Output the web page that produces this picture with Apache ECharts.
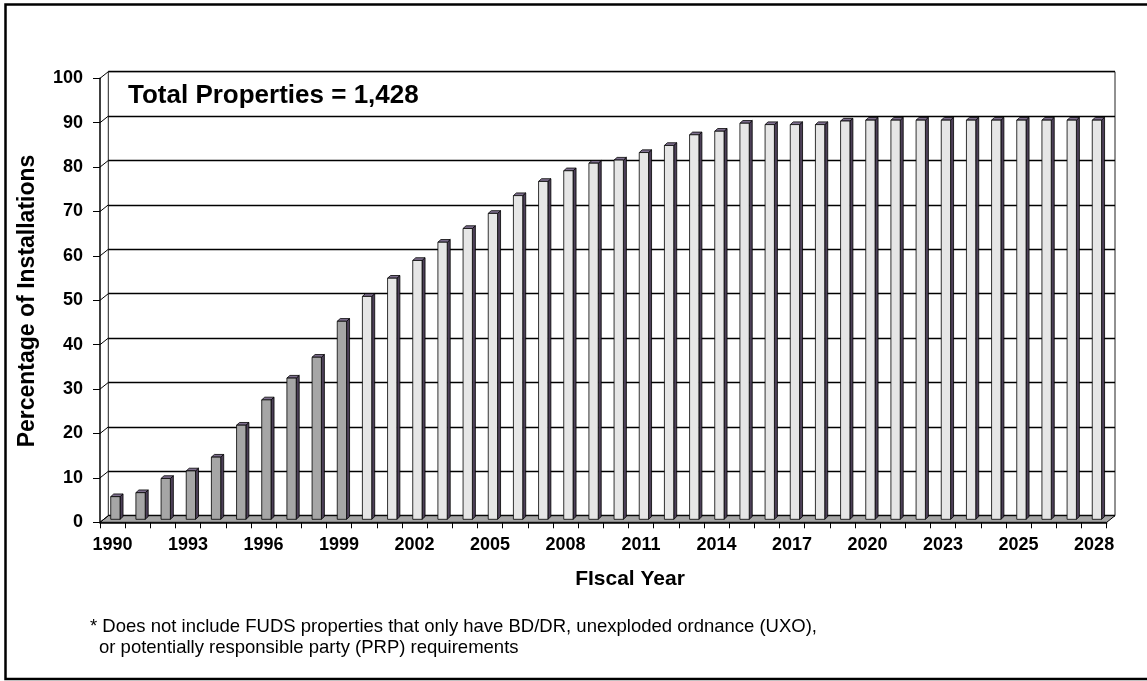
<!DOCTYPE html>
<html>
<head>
<meta charset="utf-8">
<script src="https://cdn.jsdelivr.net/npm/echarts@6/dist/echarts.min.js"></script>
<style>
html,body{margin:0;padding:0;background:#fff;}
#chart{width:1147px;height:681px;}
</style>
</head>
<body>
<div id="chart"></div>
<script>
// ---- data ----
const categories = ['1990','1991','1992','1993','1994','1995','1996','1997','1998','1999',
  '2000','2001','2002','2003','2004','2005','2006','2007','2008','2009',
  '2010','2011','2012','2013','2014','2015','2016','2017','2018','2019',
  '2020','2021','2022','2023','2024a','2024b','2025','2026','2027','2028'];
const tickLabels = ['1990','1993','1996','1999','2002','2005','2008','2011','2014','2017','2020','2023','2025','2028'];
// 1990-1999 (dark bars)
const actual = [5.1, 6.0, 9.2, 10.9, 14.0, 21.2, 26.9, 31.8, 36.5, 44.6];
// 2000 onward (light bars)
const projected = [50.2, 54.3, 58.3, 62.4, 65.5, 68.9, 72.9, 76.1, 78.5, 80.2,
  80.9, 82.6, 84.2, 86.6, 87.4, 89.2, 88.9, 88.9, 88.9, 89.7,
  89.9, 89.9, 89.9, 89.9, 89.9, 89.9, 89.9, 89.9, 89.9, 89.9];
const yTicks = [0,10,20,30,40,50,60,70,80,90,100];

// ---- layout ----
const FONT = 'Liberation Sans, Arial, Helvetica, sans-serif';
const GL = 100, GT = 78.3, GW = 1006.7, GH = 444;
const DX = 8.3, DY = -6.6; // depth of the 3D box

const chart = echarts.init(document.getElementById('chart'), null, {renderer: 'canvas'});

function barRenderer(frontColor) {
  return function (params, api) {
    const i = api.value(0), v = api.value(1);
    const base = api.coord([i, 0]);
    const top = api.coord([i, v]);
    const cw = api.size([1, 0])[0];
    const bw = cw * 0.37;
    const ox = 2.8, oy = -3;
    const x0 = base[0] + ox - bw / 2, x1 = x0 + bw;
    const yb = base[1] + oy, yt = top[1] + oy;
    const sx = 3, sy = -2.7;
    const st = {stroke: '#000', lineWidth: 0.8, lineJoin: 'round'};
    return {
      type: 'group',
      children: [
        {type: 'polygon', shape: {points: [[x1, yb], [x1 + sx, yb + sy], [x1 + sx, yt + sy], [x1, yt]]},
          style: Object.assign({fill: '#4d4058'}, st)},
        {type: 'polygon', shape: {points: [[x0, yt], [x1, yt], [x1 + sx, yt + sy], [x0 + sx, yt + sy]]},
          style: Object.assign({fill: '#7e6f8e'}, st)},
        {type: 'polygon', shape: {points: [[x0, yb], [x1, yb], [x1, yt], [x0, yt]]},
          style: Object.assign({fill: frontColor}, st)}
      ]
    };
  };
}

const option = {
  backgroundColor: '#fff',
  animation: false,
  grid: [
    {left: GL, top: GT, width: GW, height: GH, show: false},
    {left: GL + DX, top: GT + DY, width: GW, height: GH, show: true,
      backgroundColor: '#fff', borderColor: '#222', borderWidth: 1}
  ],
  xAxis: [
    {type: 'category', gridIndex: 0, data: categories, boundaryGap: true,
      axisLine: {show: true, lineStyle: {color: '#000', width: 1.5}},
      axisTick: {show: true, interval: 0, length: 6, lineStyle: {color: '#000', width: 1}},
      axisLabel: {interval: 2, margin: 14, color: '#000', fontFamily: FONT, fontWeight: 'bold', fontSize: 18,
        formatter: function (val, idx) { return tickLabels[Math.round(idx / 3)] || ''; }},
      splitLine: {show: false}, z: 5},
    {type: 'category', gridIndex: 1, data: categories, show: false}
  ],
  yAxis: [
    {type: 'value', gridIndex: 0, min: 0, max: 100, interval: 10,
      axisLine: {show: true, lineStyle: {color: '#000', width: 1.5}},
      axisTick: {show: true, length: 7, lineStyle: {color: '#000', width: 1}},
      axisLabel: {margin: 17, color: '#000', fontFamily: FONT, fontWeight: 'bold', fontSize: 18},
      splitLine: {show: false}, z: 5},
    {type: 'value', gridIndex: 1, min: 0, max: 100, interval: 10,
      axisLine: {show: false}, axisTick: {show: false}, axisLabel: {show: false},
      splitLine: {show: true, lineStyle: {color: '#000', width: 1.3}}}
  ],
  series: [
    { // floor of the 3D box and depth ticks
      type: 'custom', xAxisIndex: 0, yAxisIndex: 0, z: 1, silent: true,
      data: yTicks.map(function (t) { return [0, t]; }),
      renderItem: function (params, api) {
        const t = api.value(1);
        const p = api.coord([0, t]);
        const cw = api.size([1, 0])[0];
        const xl = p[0] - cw / 2;
        const children = [
          {type: 'line', shape: {x1: xl, y1: p[1], x2: xl + DX, y2: p[1] + DY},
            style: {stroke: '#000', lineWidth: 1}}
        ];
        if (t === 0) {
          const xr = api.coord([categories.length - 1, 0])[0] + cw / 2;
          children.unshift({type: 'polygon',
            shape: {points: [[xl, p[1]], [xr, p[1]], [xr + DX, p[1] + DY], [xl + DX, p[1] + DY]]},
            style: {fill: '#a6a6a6', stroke: '#000', lineWidth: 1}});
        }
        return {type: 'group', children: children};
      }
    },
    {
      type: 'custom', name: 'Actual', xAxisIndex: 0, yAxisIndex: 0, z: 3,
      data: actual.map(function (v, i) { return [i, v]; }),
      encode: {x: 0, y: 1},
      renderItem: barRenderer('#a6a6a6')
    },
    {
      type: 'custom', name: 'Projected', xAxisIndex: 0, yAxisIndex: 0, z: 3,
      data: projected.map(function (v, i) { return [i + actual.length, v]; }),
      encode: {x: 0, y: 1},
      renderItem: barRenderer('#e6e6e6')
    }
  ],
  graphic: [
    {type: 'rect', shape: {x: 5.5, y: 4.5, width: 1146, height: 674.5}, silent: true,
      style: {fill: 'none', stroke: '#000', lineWidth: 2.5}, z: 100},
    {type: 'text', left: 128, top: 83, z: 100,
      style: {text: 'Total Properties = 1,428', fill: '#000', font: 'bold 26px ' + FONT}},
    {type: 'text', x: 28, y: 301, rotation: Math.PI / 2, z: 100,
      style: {text: 'Percentage of Installations', fill: '#000', font: 'bold 23px ' + FONT,
        align: 'center', verticalAlign: 'middle'}},
    {type: 'text', x: 630, y: 579, z: 100,
      style: {text: 'FIscal Year', fill: '#000', font: 'bold 21px ' + FONT,
        align: 'center', verticalAlign: 'middle'}},
    {type: 'text', x: 90, y: 627, z: 100,
      style: {text: '* Does not include FUDS properties that only have BD/DR, unexploded ordnance (UXO),',
        fill: '#000', font: '18.5px ' + FONT, verticalAlign: 'middle'}},
    {type: 'text', x: 99, y: 648, z: 100,
      style: {text: 'or potentially responsible party (PRP) requirements',
        fill: '#000', font: '18.5px ' + FONT, verticalAlign: 'middle'}}
  ]
};
chart.setOption(option);
</script>
</body>
</html>
